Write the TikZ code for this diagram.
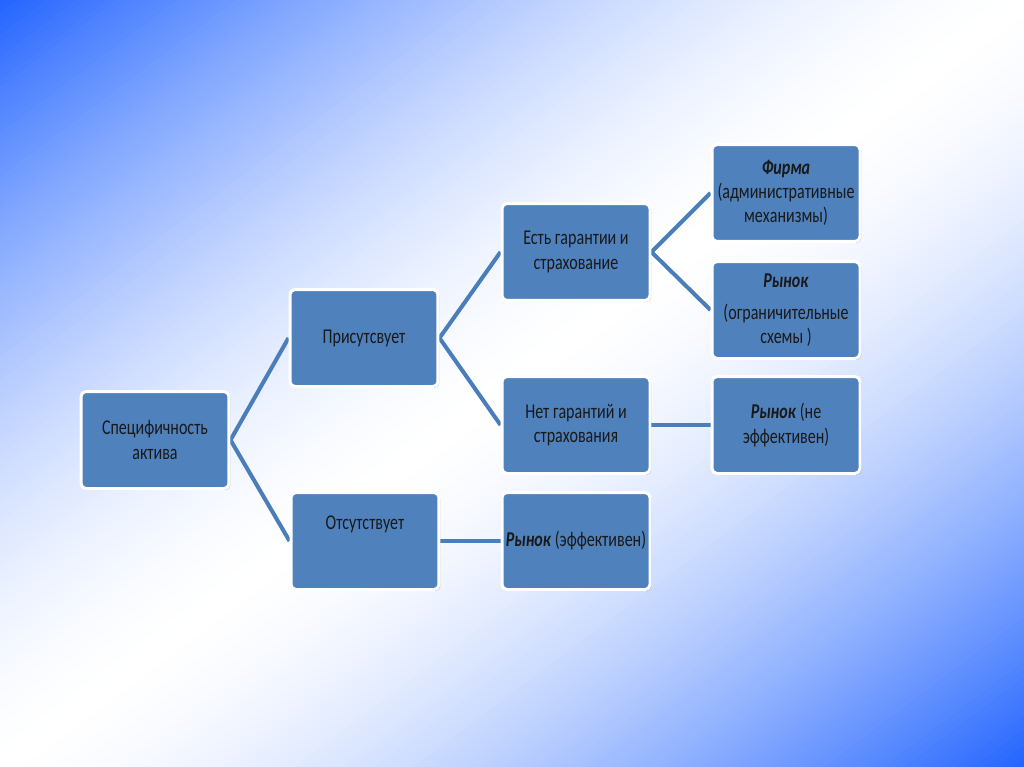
\documentclass[tikz,border=0pt]{standalone}
\usepackage{fontspec}
\setmainfont{Carlito}[FakeStretch=0.76]
\usetikzlibrary{shadows}
\definecolor{boxblue}{RGB}{79,129,189}
\definecolor{linkblue}{RGB}{74,126,187}
\definecolor{bgblue}{RGB}{32,98,255}
\pgfdeclarelayer{bg}
\pgfdeclarelayer{edges}
\pgfsetlayers{bg,edges,main}
\begin{document}
\begin{tikzpicture}[x=0.02cm,y=-0.02cm,
  box/.style={draw=white, line width=1.7pt, fill=boxblue, rounded corners=0.1cm,
    minimum width=2.96cm, minimum height=1.94cm, inner sep=0pt, align=center,
    text=black!90, font=\fontsize{12pt}{13.8pt}\selectfont,
    drop shadow={shadow xshift=0.03cm, shadow yshift=-0.03cm, opacity=0.2, fill=black}},
  link/.style={draw=linkblue, line width=2.3pt}]
\useasboundingbox (0,0) rectangle (1024,767);
\begin{pgfonlayer}{bg}
  \clip (0,0) rectangle (1024,767);
  \begin{scope}[shift={(512,383.5)}, rotate=-53.13]
    \foreach \t in {-700,-694,...,694} {
      \pgfmathsetmacro\p{min(100,100*pow(abs(\t+3)/620,1.6))}
      \fill[bgblue!\p!white] (\t,-900) rectangle (\t+7,900);
    }
  \end{scope}
\end{pgfonlayer}

\node[box] (spec) at (155,440) {Специфичность\\актива};
\node[box] (pres) at (364,338) {Присутсвует};
\node[box] (abs)  at (365,541) {\raisebox{0.72cm}{Отсутствует}};
\node[box] (est)  at (576,252) {Есть гарантии и\\страхование};
\node[box] (net)  at (576,425) {Нет гарантий и\\страхования};
\node[box] (mrk1) at (576,541) {\textbf{\textit{Рынок}}\,(эффективен)};
\node[box] (firm) at (786,193) {\textbf{\textit{Фирма}}\\(административные\\механизмы)};
\node[box] (mrk2) at (786,310) {\textbf{\textit{Рынок}}\\[0.16cm](ограничительные\\схемы )};
\node[box] (mrk3) at (786,425) {\textbf{\textit{Рынок}} (не\\эффективен)};

\begin{pgfonlayer}{edges}
  \draw[link] (spec.east) -- (pres.west);
  \draw[link] (spec.east) -- (abs.west);
  \draw[link] (pres.east) -- (est.west);
  \draw[link] (pres.east) -- (net.west);
  \draw[link] (abs.east) -- (mrk1.west);
  \draw[link] (est.east) -- (firm.west);
  \draw[link] (est.east) -- (mrk2.west);
  \draw[link] (net.east) -- (mrk3.west);
\end{pgfonlayer}
\end{tikzpicture}
\end{document}
